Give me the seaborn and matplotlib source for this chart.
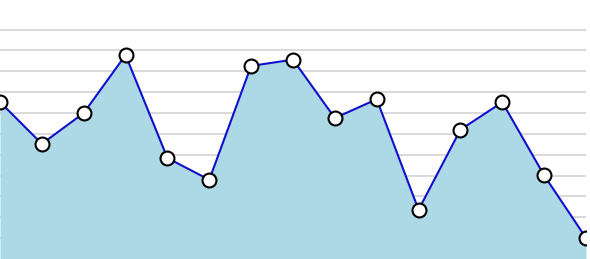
import matplotlib
matplotlib.use("Agg")
import matplotlib.pyplot as plt
import seaborn as sns
import pandas as pd

x_idx = list(range(15))
values = [75.3, 55.2, 70.0, 97.8, 48.4, 38.0, 92.6, 95.6, 67.6, 76.6, 23.6, 62.0, 75.2, 40.1, 10.1]
grid_levels = [10, 20, 30, 40, 50, 60, 70, 80, 90, 100, 110]

df = pd.DataFrame({"x": x_idx, "y": values})

sns.set_theme(style="white")
fig = plt.figure(figsize=(5.9, 2.59), dpi=100)
ax = fig.add_axes([0, 0, 586 / 590, 1])

for g in grid_levels:
    ax.axhline(g, color="#d3d3d3", lw=1.2, zorder=0)

ax.fill_between(df["x"], df["y"], 0, color="#add8e6", lw=0, zorder=1)
sns.lineplot(data=df, x="x", y="y", ax=ax, color="#1010cc", lw=1.5,
             marker="o", markersize=10, markerfacecolor="white",
             markeredgecolor="black", markeredgewidth=1.5, zorder=3)

ax.set_xlim(0, 14)
ax.set_ylim(0, 124.2)
ax.set_axis_off()
fig.savefig("out.png", dpi=100)
